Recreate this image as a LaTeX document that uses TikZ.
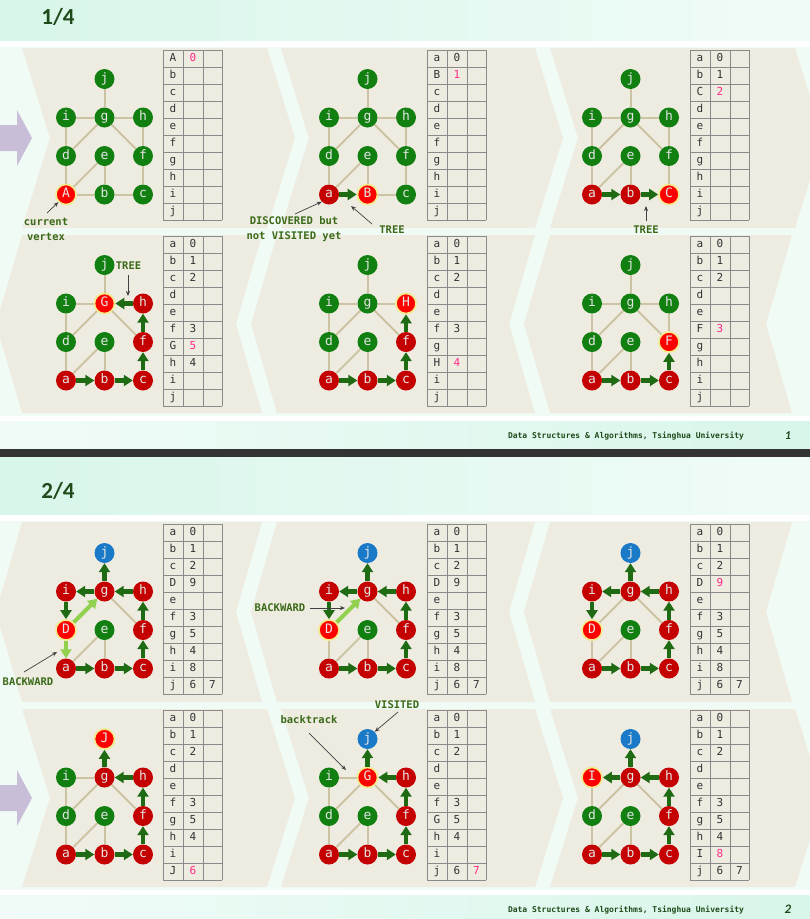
\documentclass[tikz,border=0pt]{standalone}
\usepackage{fontspec}
\newfontfamily\mono{DejaVu Sans Mono}
\newfontfamily\ttl{Carlito}
\usetikzlibrary{arrows.meta}
\definecolor{vgreenc}{HTML}{118011}
\definecolor{vredc}{HTML}{C40000}
\definecolor{vcurc}{HTML}{FF0000}
\definecolor{ringc}{HTML}{F4EA88}
\definecolor{vbluec}{HTML}{1A7AC8}
\definecolor{tanc}{HTML}{CCC3A2}
\definecolor{treec}{HTML}{1F6B14}
\definecolor{backc}{HTML}{92D050}
\definecolor{panelc}{HTML}{EEEBE1}
\definecolor{bgc}{HTML}{F1FBF6}
\definecolor{gridc}{HTML}{8A8A8A}
\definecolor{pinkc}{HTML}{FF2A86}
\definecolor{annc}{HTML}{3A6A18}
\definecolor{purpc}{HTML}{C9BED8}
\definecolor{hdrA}{HTML}{D8F6EA}
\definecolor{hdrB}{HTML}{F0FBF7}
\definecolor{titlec}{HTML}{1F4A1A}
\definecolor{txtc}{HTML}{333333}
\definecolor{bandc}{HTML}{333333}
\newcommand\pk[1]{\textcolor{pinkc}{#1}}
\newcommand\vcase[1]{#1}
\tikzset{
 vtx/.style={circle, inner sep=0pt, minimum size=20pt, text=white!90!black, text height=9pt, text depth=2.5pt, font=\mono\fontsize{13}{13}\selectfont},
 vgreen/.style={vtx, fill=vgreenc},
 vred/.style={vtx, fill=vredc},
 vblue/.style={vtx, fill=vbluec},
 vcur/.style={vtx, fill=vcurc, draw=ringc, line width=1.6pt, execute at begin node={\let\vcase\uppercase}},
 st-a/.style=vgreen, st-b/.style=vgreen, st-c/.style=vgreen, st-d/.style=vgreen, st-e/.style=vgreen,
 st-f/.style=vgreen, st-g/.style=vgreen, st-h/.style=vgreen, st-i/.style=vgreen, st-j/.style=vgreen,
 tanedge/.style={draw=tanc, line width=2pt},
 treearr/.style={draw=treec, line width=4.2pt, -{Triangle[length=9pt,width=11pt]}},
 backarr/.style={draw=backc, line width=4.2pt, -{Triangle[length=9pt,width=11pt]}},
 tabline/.style={draw=gridc, line width=0.9pt},
 tabtxt/.style={font=\mono\fontsize{11}{11}\selectfont, text=txtc, inner sep=0pt, text height=8pt, text depth=2pt},
 ann/.style={font=\mono\bfseries\fontsize{10.5}{15}\selectfont, text=annc, inner sep=1pt, align=center},
 annarr/.style={draw=black!75, line width=0.7pt, -{Stealth[length=5pt,width=4pt]}},
 ttlstyle/.style={font=\ttl\bfseries\fontsize{23}{23}\selectfont, text=titlec},
 footstyle/.style={font=\mono\bfseries\fontsize{8}{8}\selectfont, text=titlec},
}
\newcommand\gnodes[3]{%
 \node[st-j] (#1j) at (#2+38.5,#3) {\vcase{j}};
 \node[st-i] (#1i) at (#2,#3+38.5) {\vcase{i}};
 \node[st-g] (#1g) at (#2+38.5,#3+38.5) {\vcase{g}};
 \node[st-h] (#1h) at (#2+77,#3+38.5) {\vcase{h}};
 \node[st-d] (#1d) at (#2,#3+77) {\vcase{d}};
 \node[st-e] (#1e) at (#2+38.5,#3+77) {\vcase{e}};
 \node[st-f] (#1f) at (#2+77,#3+77) {\vcase{f}};
 \node[st-a] (#1a) at (#2,#3+115.5) {\vcase{a}};
 \node[st-b] (#1b) at (#2+38.5,#3+115.5) {\vcase{b}};
 \node[st-c] (#1c) at (#2+77,#3+115.5) {\vcase{c}};
}
\newcommand\tans[2]{\foreach \ea/\eb in {#2}{\draw[tanedge] (#1\ea) -- (#1\eb);}}
\newcommand\trees[2]{\foreach \ea/\eb in {#2}{\draw[treearr] (#1\ea) -- (#1\eb);}}
\newcommand\backs[2]{\foreach \ea/\eb in {#2}{\draw[backarr] (#1\ea) -- (#1\eb);}}
\newcommand\dtab[4]{%
 \foreach \k in {0,...,10}{\draw[tabline] (#2,#3+17*\k) -- (#2+59,#3+17*\k);}
 \foreach \cx in {0,20,40,59}{\draw[tabline] (#2+\cx,#3) -- (#2+\cx,#3+170);}
 \foreach[count=\k] \ta/\tb/\tc in {#4}{%
  \node[tabtxt] (#1-\k-1) at (#2+10,#3+17*\k-8.5) {\ta};
  \node[tabtxt] (#1-\k-2) at (#2+30,#3+17*\k-8.5) {\tb};
  \node[tabtxt] (#1-\k-3) at (#2+49.5,#3+17*\k-8.5) {\tc};
 }}
\newcommand\rpanel[4]{\fill[panelc] (#1,#3) -- (#2,#3) -- (#2+28,{(#3+#4)/2}) -- (#2,#4) -- (#1,#4) -- (#1+28,{(#3+#4)/2}) -- cycle;}
\newcommand\lpanel[4]{\fill[panelc] (#1,#3) -- (#2,#3) -- (#2-26,{(#3+#4)/2}) -- (#2,#4) -- (#1,#4) -- (#1-26,{(#3+#4)/2}) -- cycle;}
\newcommand\parrow[1]{\fill[purpc] (0,#1-13) -- (17,#1-13) -- (17,#1-28) -- (32,#1) -- (17,#1+28) -- (17,#1+13) -- (0,#1+13) -- cycle;}
\begin{document}
\begin{tikzpicture}[x=1pt,y=-1pt]
\useasboundingbox (0,0) rectangle (810,919);
\clip (0,0) rectangle (810,919);
% backgrounds
\fill[white] (0,0) rectangle (810,919);
\shade[left color=hdrA, right color=hdrB] (0,-20) rectangle (810,40);
\fill[bgc] (0,47) rectangle (810,416);
\shade[left color=hdrB, right color=hdrA] (0,421) rectangle (810,449);
\fill[bandc] (0,449) rectangle (810,457);
\shade[left color=hdrA, right color=hdrB] (0,457) rectangle (810,514);
\fill[bgc] (0,521) rectangle (810,890);
\shade[left color=hdrB, right color=hdrA] (0,895) rectangle (810,925);
% titles and footers
\node[ttlstyle] (title1) at (58,17) {1/4};
\node[ttlstyle] (title2) at (58,491) {2/4};
\node[footstyle] (foot1) at (626,436) {Data Structures \& Algorithms, Tsinghua University};
\node[footstyle] (foot2) at (626,910) {Data Structures \& Algorithms, Tsinghua University};
\node[font=\ttl\bfseries\itshape\fontsize{12}{12}\selectfont, text=titlec] (pg1) at (788,436) {1};
\node[font=\ttl\bfseries\itshape\fontsize{13}{13}\selectfont, text=titlec] (pg2) at (788,909) {2};
% panels
\rpanel{22}{267}{48}{228}\rpanel{281}{535}{48}{228}\rpanel{550}{795}{48}{228}
\lpanel{22}{262}{235}{413}\lpanel{277}{535}{235}{413}\lpanel{550}{792}{235}{413}
\lpanel{22}{262}{522}{702}\lpanel{277}{535}{522}{702}\lpanel{550}{792}{522}{702}
\rpanel{22}{267}{709}{887}\rpanel{281}{535}{709}{887}\rpanel{550}{795}{709}{887}
\parrow{138}
\parrow{798}
% ---------------- slide 1, row 1 ----------------
\begin{scope}[st-a/.style=vcur]
 \gnodes{Aa}{66}{79}
 \tans{Aa}{j/g,i/g,g/h,i/d,g/d,g/f,h/f,d/a,a/e,e/b,a/b,b/c,f/c}
 \dtab{tAa}{163}{50}{A/\pk{0}/,b//,c//,d//,e//,f//,g//,h//,i//,j//}
\end{scope}
\begin{scope}[st-a/.style=vred, st-b/.style=vcur]
 \gnodes{Ab}{329}{79}
 \tans{Ab}{j/g,i/g,g/h,i/d,g/d,g/f,h/f,d/a,a/e,e/b,b/c,f/c}
 \trees{Ab}{a/b}
 \dtab{tAb}{427}{50}{a/0/,B/\pk{1}/,c//,d//,e//,f//,g//,h//,i//,j//}
\end{scope}
\begin{scope}[st-a/.style=vred, st-b/.style=vred, st-c/.style=vcur]
 \gnodes{Ac}{592}{79}
 \tans{Ac}{j/g,i/g,g/h,i/d,g/d,g/f,h/f,d/a,a/e,e/b,f/c}
 \trees{Ac}{a/b,b/c}
 \dtab{tAc}{690}{50}{a/0/,b/1/,C/\pk{2}/,d//,e//,f//,g//,h//,i//,j//}
\end{scope}
% ---------------- slide 1, row 2 ----------------
\begin{scope}[st-a/.style=vred, st-b/.style=vred, st-c/.style=vred, st-f/.style=vred, st-h/.style=vred, st-g/.style=vcur]
 \gnodes{Ba}{66}{265}
 \tans{Ba}{j/g,i/g,i/d,g/d,g/f,d/a,a/e,e/b}
 \trees{Ba}{a/b,b/c,c/f,f/h,h/g}
 \dtab{tBa}{163}{236}{a/0/,b/1/,c/2/,d//,e//,f/3/,G/\pk{5}/,h/4/,i//,j//}
\end{scope}
\begin{scope}[st-a/.style=vred, st-b/.style=vred, st-c/.style=vred, st-f/.style=vred, st-h/.style=vcur]
 \gnodes{Bb}{329}{265}
 \tans{Bb}{j/g,i/g,g/h,i/d,g/d,g/f,d/a,a/e,e/b}
 \trees{Bb}{a/b,b/c,c/f,f/h}
 \dtab{tBb}{427}{236}{a/0/,b/1/,c/2/,d//,e//,f/3/,g//,H/\pk{4}/,i//,j//}
\end{scope}
\begin{scope}[st-a/.style=vred, st-b/.style=vred, st-c/.style=vred, st-f/.style=vcur]
 \gnodes{Bc}{592}{265}
 \tans{Bc}{j/g,i/g,g/h,i/d,g/d,g/f,h/f,d/a,a/e,e/b}
 \trees{Bc}{a/b,b/c,c/f}
 \dtab{tBc}{690}{236}{a/0/,b/1/,c/2/,d//,e//,F/\pk{3}/,g//,h//,i//,j//}
\end{scope}
% ---------------- slide 2, row 1 ----------------
\begin{scope}[st-a/.style=vred, st-b/.style=vred, st-c/.style=vred, st-f/.style=vred, st-h/.style=vred, st-g/.style=vred, st-i/.style=vred, st-j/.style=vblue, st-d/.style=vcur]
 \gnodes{Ca}{66}{553}
 \tans{Ca}{g/f,a/e,e/b}
 \trees{Ca}{a/b,b/c,c/f,f/h,h/g,g/j,g/i,i/d}
 \backs{Ca}{d/g,d/a}
 \dtab{tCa}{163}{524}{a/0/,b/1/,c/2/,D/9/,e//,f/3/,g/5/,h/4/,i/8/,j/6/7}
\end{scope}
\begin{scope}[st-a/.style=vred, st-b/.style=vred, st-c/.style=vred, st-f/.style=vred, st-h/.style=vred, st-g/.style=vred, st-i/.style=vred, st-j/.style=vblue, st-d/.style=vcur]
 \gnodes{Cb}{329}{553}
 \tans{Cb}{g/f,d/a,a/e,e/b}
 \trees{Cb}{a/b,b/c,c/f,f/h,h/g,g/j,g/i,i/d}
 \backs{Cb}{d/g}
 \dtab{tCb}{427}{524}{a/0/,b/1/,c/2/,D/9/,e//,f/3/,g/5/,h/4/,i/8/,j/6/7}
\end{scope}
\begin{scope}[st-a/.style=vred, st-b/.style=vred, st-c/.style=vred, st-f/.style=vred, st-h/.style=vred, st-g/.style=vred, st-i/.style=vred, st-j/.style=vblue, st-d/.style=vcur]
 \gnodes{Cc}{592}{553}
 \tans{Cc}{g/d,g/f,d/a,a/e,e/b}
 \trees{Cc}{a/b,b/c,c/f,f/h,h/g,g/j,g/i,i/d}
 \dtab{tCc}{690}{524}{a/0/,b/1/,c/2/,D/\pk{9}/,e//,f/3/,g/5/,h/4/,i/8/,j/6/7}
\end{scope}
% ---------------- slide 2, row 2 ----------------
\begin{scope}[st-a/.style=vred, st-b/.style=vred, st-c/.style=vred, st-f/.style=vred, st-h/.style=vred, st-g/.style=vred, st-j/.style=vcur]
 \gnodes{Da}{66}{739}
 \tans{Da}{i/g,i/d,g/d,g/f,d/a,a/e,e/b}
 \trees{Da}{a/b,b/c,c/f,f/h,h/g,g/j}
 \dtab{tDa}{163}{710}{a/0/,b/1/,c/2/,d//,e//,f/3/,g/5/,h/4/,i//,J/\pk{6}/}
\end{scope}
\begin{scope}[st-a/.style=vred, st-b/.style=vred, st-c/.style=vred, st-f/.style=vred, st-h/.style=vred, st-g/.style=vcur, st-j/.style=vblue]
 \gnodes{Db}{329}{739}
 \tans{Db}{i/g,i/d,g/d,g/f,d/a,a/e,e/b}
 \trees{Db}{a/b,b/c,c/f,f/h,h/g,g/j}
 \dtab{tDb}{427}{710}{a/0/,b/1/,c/2/,d//,e//,f/3/,G/5/,h/4/,i//,j/6/\pk{7}}
\end{scope}
\begin{scope}[st-a/.style=vred, st-b/.style=vred, st-c/.style=vred, st-f/.style=vred, st-h/.style=vred, st-g/.style=vred, st-i/.style=vcur, st-j/.style=vblue]
 \gnodes{Dc}{592}{739}
 \tans{Dc}{i/d,g/d,g/f,d/a,a/e,e/b}
 \trees{Dc}{a/b,b/c,c/f,f/h,h/g,g/j,g/i}
 \dtab{tDc}{690}{710}{a/0/,b/1/,c/2/,d//,e//,f/3/,g/5/,h/4/,I/\pk{8}/,j/6/7}
\end{scope}
% ---------------- annotations ----------------
\node[ann] (nAa) at (46,229.5) {current\\vertex};
\coordinate (cAa) at (47,213);
\draw[annarr] (cAa) -- (Aaa.south west);
\node[ann] (nAb1) at (294,229.5) {DISCOVERED but\\not VISITED yet};
\coordinate (cAb1) at (295,214);
\draw[annarr] (cAb1) -- (Aba.south west);
\node[ann] (nAb2) at (392,230) {TREE};
\coordinate (cAb2) at (372,224);
\coordinate (eAb2) at (351,206);
\draw[annarr] (cAb2) -- (eAb2);
\node[ann] (nAc) at (646,230) {TREE};
\coordinate (cAc) at (646,221);
\coordinate (eAc) at (646,206);
\draw[annarr] (cAc) -- (eAc);
\node[ann] (nBa) at (128.5,266) {TREE};
\coordinate (cBa) at (128,275);
\coordinate (eBa) at (128,296);
\draw[annarr] (cBa) -- (eBa);
\node[ann] (nCa) at (28,682) {BACKWARD};
\coordinate (cCa) at (24,672);
\coordinate (eCa) at (57,652);
\draw[annarr] (cCa) -- (eCa);
\node[ann] (nCb) at (280,608) {BACKWARD};
\coordinate (cCb) at (310,608);
\coordinate (eCb) at (345,608);
\draw[annarr] (cCb) -- (eCb);
\node[ann] (nDb1) at (309,720) {backtrack};
\coordinate (cDb1) at (309,733);
\coordinate (eDb1) at (346,770);
\draw[annarr] (cDb1) -- (eDb1);
\node[ann] (nDb2) at (397,705) {VISITED};
\coordinate (cDb2) at (398,712);
\draw[annarr] (cDb2) -- (Dbj.north east);
\end{tikzpicture}
\end{document}
